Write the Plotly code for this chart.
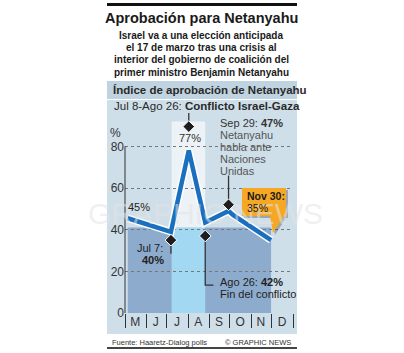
import plotly.graph_objects as go

# ---------------- data ----------------
poll_dates = ["2014-05-05", "2014-07-07", "2014-08-02", "2014-08-26",
              "2014-09-29", "2014-10-06", "2014-11-30"]
approval = [45.5, 39, 78, 43.5, 49, 47, 35]

month_mids = ["2014-05-16", "2014-06-15", "2014-07-16", "2014-08-16",
              "2014-09-15", "2014-10-16", "2014-11-15", "2014-12-16"]
month_labels = ["M", "J", "J", "A", "S", "O", "N", "D"]
month_bounds = ["2014-05-01", "2014-06-01", "2014-07-01", "2014-08-01", "2014-09-01",
                "2014-10-01", "2014-11-01", "2014-12-01", "2015-01-01"]
y_ticks = [0, 20, 40, 60, 80]

conflict_start = "2014-07-08"
conflict_end = "2014-08-26"

# ---------------- layout geometry ----------------
W, H = 404, 353
L, R, T, B = 125, 111, 111, 40
PW, PH = W - L - R, H - T - B


def px(x):
    return (x - L) / PW


def py(y):
    return (H - B - y) / PH


SANS = "Liberation Sans, Arial, sans-serif"
DARK = "#2b2b2b"
PANEL = "#cfdfe9"
HEADER = "#bfd3e0"
DARKBAND = "#8dabcd"
LIGHTBAND = "#a3d8f3"
LINE = "#1a6fbe"
ORANGE = "#f6a724"

fig = go.Figure()

# line with white outline
fig.add_trace(go.Scatter(x=poll_dates, y=approval, mode="lines",
                         line=dict(color="white", width=7.5), hoverinfo="skip"))
fig.add_trace(go.Scatter(x=poll_dates, y=approval, mode="lines",
                         line=dict(color=LINE, width=4.5), hoverinfo="skip"))

# callout leaders (relative to data points)
leader_style = dict(color="#333333", width=1.3)
fig.add_trace(go.Scatter(x=[poll_dates[1], poll_dates[1]],
                         y=[approval[1] - 4, approval[1] - 10.5], mode="lines",
                         line=leader_style, hoverinfo="skip"))
fig.add_trace(go.Scatter(x=[poll_dates[3], poll_dates[3], "2014-09-07"],
                         y=[approval[3] - 6.5, 13.4, 13.4], mode="lines",
                         line=leader_style, hoverinfo="skip"))
fig.add_trace(go.Scatter(x=[poll_dates[4], poll_dates[4]],
                         y=[approval[4] + 3, approval[4] + 17], mode="lines",
                         line=leader_style, hoverinfo="skip"))
fig.add_trace(go.Scatter(x=[poll_dates[2], poll_dates[2]],
                         y=[approval[2] + 11.5, approval[2] + 18], mode="lines",
                         line=leader_style, hoverinfo="skip"))

# diamonds
fig.add_trace(go.Scatter(
    x=[poll_dates[1], poll_dates[3], poll_dates[4], poll_dates[2]],
    y=[approval[1] - 4, approval[3] - 6.5, approval[4] + 3, approval[2] + 11.5],
    mode="markers",
    marker=dict(symbol="diamond", size=9, color="#1e1e1e",
                line=dict(color="white", width=1)),
    hoverinfo="skip"))

shapes = []
shapes.append(dict(type="line", xref="paper", yref="paper", x0=px(107), x1=px(297),
                   y0=py(4.5), y1=py(4.5), line=dict(color="#111", width=3)))
shapes.append(dict(type="rect", xref="paper", yref="paper", x0=px(107), x1=px(297),
                   y0=py(81), y1=py(334), fillcolor=PANEL, line_width=0, layer="below"))
shapes.append(dict(type="rect", xref="paper", yref="paper", x0=px(107), x1=px(297),
                   y0=py(81), y1=py(99), fillcolor=HEADER, line_width=0, layer="below"))
shapes.append(dict(type="line", xref="paper", yref="paper", x0=px(107), x1=px(297),
                   y0=py(99.5), y1=py(99.5), line=dict(color="white", width=1), layer="below"))
shapes.append(dict(type="line", xref="paper", yref="paper", x0=px(107), x1=px(297),
                   y0=py(348), y1=py(348), line=dict(color="#444", width=1.8)))
shapes.append(dict(type="rect", xref="x", yref="y", x0=poll_dates[0], x1=poll_dates[-1],
                   y0=0, y1=41, fillcolor=DARKBAND, line_width=0, layer="below"))
shapes.append(dict(type="rect", xref="x", yref="y", x0=conflict_start, x1=conflict_end,
                   y0=0, y1=41, fillcolor=LIGHTBAND, line_width=0, layer="below"))
shapes.append(dict(type="rect", xref="x", yref="y", x0=conflict_start, x1=conflict_end,
                   y0=41, y1=92, fillcolor="rgba(255,255,255,0.6)", line_width=0, layer="below"))
shapes.append(dict(type="line", xref="paper", yref="y", x0=0, x1=0, y0=0, y1=80,
                   line=dict(color="#333", width=1)))


def bubble(dx, dy):
    pts = [(242, 188), (286, 188), (286, 216), (284, 216), (273, 233),
           (270, 216), (242, 216)]
    return "M " + " L ".join(f"{px(x + dx):.4f},{py(y + dy):.4f}" for x, y in pts) + " Z"


shapes.append(dict(type="path", xref="paper", yref="paper", path=bubble(2, 2),
                   fillcolor="rgba(0,0,0,0.25)", line_width=0))
shapes.append(dict(type="path", xref="paper", yref="paper", path=bubble(0, 0),
                   fillcolor=ORANGE, line_width=0))

ann = []


def text(x, y, s, size=11, color=DARK, family=SANS, xanchor="left", yanchor="middle"):
    ann.append(dict(xref="paper", yref="paper", x=px(x), y=py(y), text=s, showarrow=False,
                    xanchor=xanchor, yanchor=yanchor,
                    font=dict(size=size, color=color, family=family)))


# watermark
text(205, 213, "GRAPHIC NEWS", size=30, color="rgba(228,228,228,0.55)", xanchor="center")

text(201, 18, "<b>Aprobación para Netanyahu</b>", size=14.5, color="#1a1a1a",
     xanchor="center")
sub = ["Israel va a una elección anticipada", "el 17 de marzo tras una crisis al",
       "interior del gobierno de coalición del", "primer ministro Benjamin Netanyahu"]
for i, s in enumerate(sub):
    text(201, 35 + i * 12.4, f"<b>{s}</b>", size=10, color="#1a1a1a", xanchor="center")
text(111, 90, "<b>Índice de aprobación de Netanyahu</b>", size=11.5, color="#2a2a2a")
text(112, 106, "Jul 8-Ago 26: <b>Conflicto Israel-Gaza</b>", size=11.5, color="#2a2a2a")

text(115, 133, "%", size=12, color="#333", xanchor="center")
text(190, 138, "77%", size=11, color="#333", xanchor="center")
text(218, 123, "Sep 29: <b>47%</b>", size=11, color="#333")
for i, s in enumerate(["Netanyahu", "habla ante", "Naciones", "Unidas"]):
    text(218, 135 + i * 12, s, size=11, color="#555")
text(139, 207, "45%", size=11, color="#222", xanchor="center")
text(165, 248, "Jul 7:", size=11, color="#222", xanchor="right")
text(153, 260, "<b>40%</b>", size=11, color="#222", xanchor="center")
text(218, 282, "Ago 26: <b>42%</b>", size=11, color="#222")
text(218, 294, "Fin del conflicto", size=11, color="#222")
text(245, 196, "<b>Nov 30:</b>", size=10.5, color="#1a1a1a")
text(245, 208, "35%", size=10.5, color="#1a1a1a")

text(110, 342, "Fuente: Haaretz-Dialog polls", size=7.5, color="#333")
text(293, 342, "© GRAPHIC NEWS", size=7.5, color="#333", xanchor="right")

fig.update_layout(
    width=W, height=H, margin=dict(l=L, r=R, t=T, b=B, pad=0),
    paper_bgcolor="white", plot_bgcolor="rgba(0,0,0,0)",
    showlegend=False, shapes=shapes, annotations=ann,
    xaxis=dict(type="date", range=["2014-05-01", "2015-01-01"], tickmode="array",
               tickvals=month_mids, ticktext=month_labels, ticks="", showgrid=False,
               zeroline=False, showline=False,
               tickfont=dict(size=12, color="#333", family=SANS),
               minor=dict(tickmode="array", tickvals=month_bounds, ticks="outside",
                          ticklen=14, tickwidth=1, tickcolor="#333", showgrid=False)),
    yaxis=dict(range=[0, 97], tickmode="array", tickvals=y_ticks,
               ticktext=[str(v) for v in y_ticks], ticks="", showgrid=True,
               gridcolor="#777", griddash="dot", gridwidth=1,
               zeroline=True, zerolinecolor="rgba(0,0,0,0)", showline=False,
               tickfont=dict(size=12, color="#333", family=SANS)),
)

fig.write_html("out.html")
